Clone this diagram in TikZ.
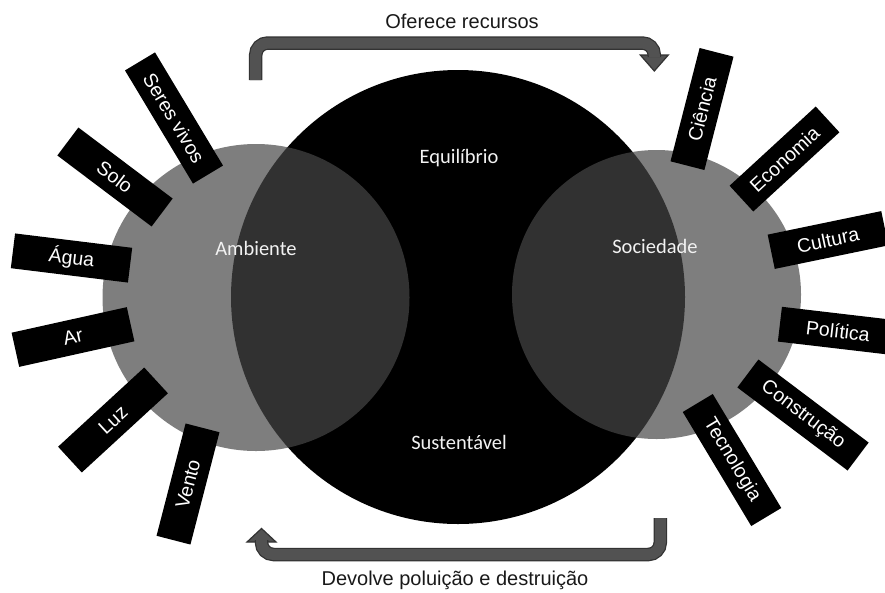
\documentclass[tikz,border=0pt]{standalone}
\usepackage{fontspec}
\setmainfont{Liberation Sans}
\newfontfamily\calibrifont{Carlito}
\usetikzlibrary{calc}

\definecolor{shadegray}{gray}{0.28}
\definecolor{arrowfill}{gray}{0.32}
\definecolor{arrowedge}{gray}{0.2}

\begin{document}
\begin{tikzpicture}
  [
  x=1pt, y=-1pt,
  font=\fontsize{20}{20}\selectfont,
  sphere/.style={circle, inner sep=0pt, fill=shadegray, fill opacity=0.7},
  tag/.style={fill=black, text=white, inner sep=0pt, minimum height=35pt,
    font=\fontsize{19.5}{19.5}\selectfont},
  inner/.style={text=white!95!black, anchor=base,
    font=\calibrifont\fontsize{20.5}{20.5}\selectfont},
  caption/.style={anchor=base, text=black!90},
  flow/.style={line width=11pt, draw=arrowfill, rounded corners=12pt,
    preaction={draw=arrowedge, line width=13.5pt}},
  flowhead/.style={fill=arrowfill, draw=arrowedge, line width=1.2pt, line join=miter}
  ]

\useasboundingbox (0,0) rectangle (885,592);

% circles
\node[circle, inner sep=0pt, fill=black, minimum size=454pt] (balance) at (458,297) {};
\node[sphere, minimum size=307pt] (ambiente) at (256,297.5) {};
\node[sphere, minimum size=289pt] (sociedade) at (656.5,294.5) {};

\node[inner] (lambiente) at (256,255) {Ambiente};
\node[inner] (lsociedade) at (655,253) {Sociedade};
\node[inner] (lequilibrio) at (459,163.3) {Equilíbrio};
\node[inner] (lsustentavel) at (459,449) {Sustentável};

% tags
\foreach \name/\x/\y/\a/\w/\txt in {
  seres/174/118/-59/132/Seres vivos,
  solo/115/177/-37/118/Solo,
  agua/71.5/258/-7/118/Água,
  ar/73/337/12.5/118/Ar,
  luz/113/420/42.6/117/Luz,
  vento/188/484/75.5/116/Vento,
  ciencia/702/109/75.6/117/Ciência,
  economia/784.5/159/42.6/117/Economia,
  cultura/828/240/11.7/116/Cultura,
  politica/838/331/-6.7/117/Política,
  construcao/803/415/-37/138/Construção,
  tecnologia/732/460/-59/133/Tecnologia} {
  \node[tag, rotate=\a, minimum width=\w pt] (\name) at (\x,\y) {\txt};
}

% arrows
\coordinate (offerfrom) at (255.7,80);
\coordinate (offertop) at (455,43);
\coordinate (offerto) at (654.3,57);
\filldraw[flowhead] ($(offerto)+(-14,-2)$) -- ($(offerto)+(14,-2)$) -- ($(offerto)+(0,14)$) -- cycle;
\draw[flow] (offerfrom) |- (offertop) -| (offerto);

\coordinate (returnfrom) at (660.3,518);
\coordinate (returnbottom) at (460,554.5);
\coordinate (returnto) at (261.5,540);
\filldraw[flowhead] ($(returnto)+(-14.5,2)$) -- ($(returnto)+(14.5,2)$) -- ($(returnto)+(0,-11.5)$) -- cycle;
\draw[flow] (returnfrom) |- (returnbottom) -| (returnto);

\node[caption] (offerlabel) at (462,28.3) {Oferece recursos};
\node[caption] (returnlabel) at (455,585) {Devolve poluição e destruição};

\end{tikzpicture}
\end{document}
